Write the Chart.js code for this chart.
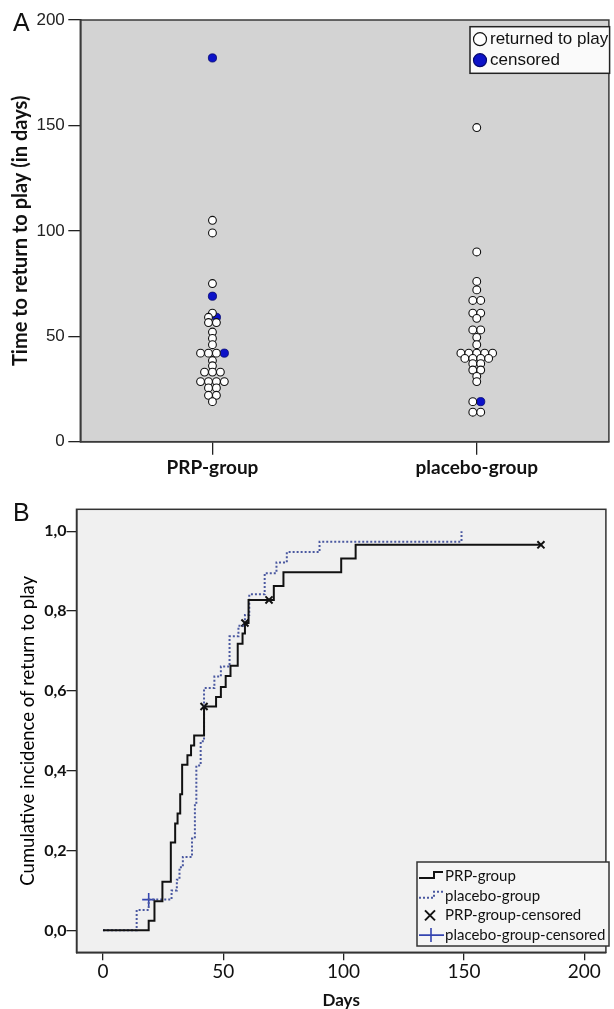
<!DOCTYPE html>
<html>
<head>
<meta charset="utf-8">
<script src="https://cdn.jsdelivr.net/npm/chart.js@4.4.1/dist/chart.umd.min.js"></script>
<style>
  html, body { margin: 0; padding: 0; background: #fff; }
  canvas { display: block; }
</style>
</head>
<body>
<canvas id="chartA" width="614" height="490"></canvas>
<canvas id="chartB" width="614" height="519"></canvas>
<script>
//--- Data, panel A (time to return to play, days).
const groups = ['PRP-group', 'placebo-group'];
const yTicksA = [0, 50, 100, 150, 200];

const prpReturned = [105, 99, 75, 61, 59, 56.5, 56.5, 52, 49, 46, 42, 42, 42, 38.5, 36, 33, 33, 33,
  28.5, 28.5, 28.5, 28.5, 25.5, 25.5, 22, 22, 19];
const prpCensored = [182, 69, 59, 42];
const placeboReturned = [149, 90, 76, 72, 67, 67, 61, 61, 58.5, 53, 53, 49.5, 46, 42, 42, 42, 42, 42,
  39.5, 39.5, 39.5, 39.5, 37, 37, 34, 34, 31, 28.5, 19, 14, 14];
const placeboCensored = [19];

//--- Data, panel B (cumulative incidence curves).
const xTicksB = [0, 50, 100, 150, 200];
const yTicksB = [0, 0.2, 0.4, 0.6, 0.8, 1.0];

const prpDays = [0, 19, 21.4, 24.7, 28.2, 30, 31, 32.1, 32.9, 35.1, 36.6, 37.9, 42, 47, 49, 51, 53, 56, 58, 59,
  60.5, 71, 75, 99, 105, 182];
const prpIncidence = [0, 0.024, 0.073, 0.122, 0.22, 0.268, 0.293, 0.341, 0.415, 0.439, 0.463, 0.488, 0.561,
  0.585, 0.61, 0.637, 0.663, 0.718, 0.744, 0.77, 0.828, 0.863, 0.897, 0.932, 0.966, 0.966];
const prpCensorDays = [42, 59, 69, 182];

const placeboDays = [0, 14, 19, 28.5, 30.7, 31.8, 33.2, 37, 38.2, 38.8, 40.6, 42, 46.3, 49, 52.6, 56.3, 59,
  60.8, 67.2, 72.1, 76.4, 90, 149];
const placeboIncidence = [0, 0.051, 0.077, 0.1, 0.127, 0.158, 0.184, 0.23, 0.316, 0.413, 0.474, 0.607, 0.636,
  0.661, 0.737, 0.763, 0.79, 0.842, 0.895, 0.922, 0.948, 0.974, 1.0];
const placeboCensorDays = [19];

const narrow = "'Liberation Sans Narrow', 'Arial Narrow', 'Liberation Sans', sans-serif";
const sans = "Lato, 'Open Sans', sans-serif";
const blue = '#0c12c8';

// Dots with the same value sit side by side, centred on the group.
const dotStep = 0.03;
function stackDots(groupIndex, returned, censored, out) {
  const rows = new Map();
  returned.forEach(v => { if (!rows.has(v)) rows.set(v, []); rows.get(v).push('returned'); });
  censored.forEach(v => { if (!rows.has(v)) rows.set(v, []); rows.get(v).push('censored'); });
  rows.forEach((kinds, v) => {
    kinds.forEach((kind, i) => {
      out[kind].push({ x: groupIndex + (i - (kinds.length - 1) / 2) * dotStep, y: v });
    });
  });
}
const dots = { returned: [], censored: [] };
stackDots(0, prpReturned, prpCensored, dots);
stackDots(1, placeboReturned, placeboCensored, dots);

const toPoints = (xs, ys) => xs.map((x, i) => ({ x, y: ys[i] }));
function valueAt(days, values, day) {
  let v = values[0];
  days.forEach((d, i) => { if (d <= day) v = values[i]; });
  return v;
}

//--- Plot background, frame and panel letter.
const plotFrame = {
  id: 'plotFrame',
  beforeDraw(chart, args, opts) {
    const { ctx, chartArea: a } = chart;
    ctx.save();
    ctx.fillStyle = opts.fill;
    ctx.fillRect(a.left, a.top, a.right - a.left, a.bottom - a.top);
    ctx.restore();
  },
  afterDraw(chart, args, opts) {
    const { ctx, chartArea: a } = chart;
    ctx.save();
    ctx.strokeStyle = opts.stroke;
    ctx.lineWidth = 1.5;
    ctx.strokeRect(a.left, a.top, a.right - a.left, a.bottom - a.top);
    ctx.font = '25px ' + narrow;
    ctx.fillStyle = '#111';
    ctx.textBaseline = 'middle';
    ctx.fillText(opts.letter, 13, 24);
    ctx.restore();
  }
};

//--- Legend of panel A.
const dotLegend = {
  id: 'dotLegend',
  afterDraw(chart, args, opts) {
    const { ctx } = chart;
    ctx.save();
    ctx.fillStyle = '#fafafa';
    ctx.fillRect(opts.x, opts.y, opts.w, opts.h);
    ctx.strokeStyle = '#222';
    ctx.lineWidth = 1.5;
    ctx.strokeRect(opts.x, opts.y, opts.w, opts.h);
    chart.data.datasets.forEach((ds, i) => {
      const cy = opts.y + 12.5 + i * 21;
      ctx.beginPath();
      ctx.arc(opts.x + 10, cy, 6.5, 0, Math.PI * 2);
      ctx.fillStyle = ds.backgroundColor;
      ctx.fill();
      ctx.strokeStyle = ds.borderColor;
      ctx.lineWidth = 1.2;
      ctx.stroke();
      ctx.fillStyle = '#111';
      ctx.font = '17px ' + narrow;
      ctx.textBaseline = 'middle';
      ctx.fillText(ds.label, opts.x + 20, cy);
    });
    ctx.restore();
  }
};

//--- Legend of panel B.
const curveLegend = {
  id: 'curveLegend',
  afterDraw(chart, args, opts) {
    const { ctx } = chart;
    ctx.save();
    ctx.fillStyle = '#f5f5f5';
    ctx.fillRect(opts.x, opts.y, opts.w, opts.h);
    ctx.strokeStyle = '#333';
    ctx.lineWidth = 1.5;
    ctx.strokeRect(opts.x, opts.y, opts.w, opts.h);
    chart.data.datasets.forEach((ds, i) => {
      const cy = opts.y + 14 + i * 19.7;
      const x0 = opts.x + 2;
      ctx.strokeStyle = ds.borderColor;
      ctx.lineWidth = ds.borderWidth;
      ctx.setLineDash(ds.borderDash || []);
      ctx.beginPath();
      if (ds.showLine) {
        ctx.moveTo(x0, cy + 2);
        ctx.lineTo(x0 + 15, cy + 2);
        ctx.lineTo(x0 + 15, cy - 4);
        ctx.lineTo(x0 + 24, cy - 4);
      } else if (ds.pointStyle === 'crossRot') {
        ctx.moveTo(x0 + 6, cy - 5); ctx.lineTo(x0 + 16, cy + 5);
        ctx.moveTo(x0 + 16, cy - 5); ctx.lineTo(x0 + 6, cy + 5);
      } else {
        ctx.moveTo(x0, cy); ctx.lineTo(x0 + 25, cy);
        ctx.moveTo(x0 + 12, cy - 7); ctx.lineTo(x0 + 12, cy + 7);
      }
      ctx.stroke();
      ctx.setLineDash([]);
      ctx.fillStyle = '#111';
      ctx.font = '15px ' + sans;
      ctx.textBaseline = 'middle';
      ctx.fillText(ds.label, opts.x + 28, cy);
    });
    ctx.restore();
  }
};

//--- Panel A: dot plot.
new Chart(document.getElementById('chartA'), {
  type: 'scatter',
  data: {
    datasets: [
      { label: 'returned to play', data: dots.returned, backgroundColor: '#ffffff', borderColor: '#111',
        borderWidth: 1.1, pointRadius: 3.9 },
      { label: 'censored', data: dots.censored, backgroundColor: blue, borderColor: '#05086e',
        borderWidth: 0.8, pointRadius: 4.1 },
    ]
  },
  options: {
    responsive: false,
    animation: false,
    events: [],
    layout: { padding: { left: 0, right: 2, top: 20, bottom: 0 } },
    scales: {
      x: {
        type: 'linear', min: -0.5, max: 1.5,
        afterBuildTicks: s => { s.ticks = groups.map((g, i) => ({ value: i })); },
        afterFit: s => { s.height = 48.3; },
        ticks: { callback: v => groups[v], color: '#111', padding: 2, maxRotation: 0, autoSkip: false,
          font: { family: sans, size: 19, weight: 'bold' } },
        grid: { drawOnChartArea: false, tickLength: 13, color: '#222', lineWidth: 1.3 },
        border: { color: '#111', width: 1.5 }
      },
      y: {
        min: 0, max: 200,
        afterBuildTicks: s => { s.ticks = yTicksA.map(v => ({ value: v })); },
        afterFit: s => { s.width = 80.3; },
        ticks: { color: '#222', padding: 3.5, font: { family: narrow, size: 17 } },
        grid: { drawOnChartArea: false, tickLength: 12, color: '#222', lineWidth: 1.3 },
        border: { color: '#111', width: 1.5 },
        title: { display: true, text: 'Time to return to play (in days)', color: '#111',
          padding: { top: 9, bottom: 0 }, font: { family: sans, size: 20, weight: 'bold' } }
      }
    },
    plugins: {
      legend: { display: false },
      tooltip: { enabled: false },
      plotFrame: { fill: '#d3d3d3', stroke: '#3a3a3a', letter: 'A' },
      dotLegend: { x: 470, y: 26.7, w: 139.6, h: 46.6 }
    }
  },
  plugins: [plotFrame, dotLegend]
});

//--- Panel B: cumulative incidence.
new Chart(document.getElementById('chartB'), {
  type: 'scatter',
  data: {
    datasets: [
      { label: 'PRP-group', data: toPoints(prpDays, prpIncidence), showLine: true, stepped: true,
        borderColor: '#111', borderWidth: 2, pointRadius: 0 },
      { label: 'placebo-group', data: toPoints(placeboDays, placeboIncidence), showLine: true, stepped: true,
        borderColor: '#4a58a0', borderWidth: 2, borderDash: [2, 2], pointRadius: 0 },
      { label: 'PRP-group-censored',
        data: prpCensorDays.map(d => ({ x: d, y: valueAt(prpDays, prpIncidence, d) })),
        pointStyle: 'crossRot', pointRadius: 5, borderColor: '#111', borderWidth: 2 },
      { label: 'placebo-group-censored',
        data: placeboCensorDays.map(d => ({ x: d, y: valueAt(placeboDays, placeboIncidence, d) })),
        pointStyle: 'cross', pointRadius: 6.5, borderColor: '#3444b0', borderWidth: 1.6 },
    ]
  },
  options: {
    responsive: false,
    animation: false,
    events: [],
    layout: { padding: { left: 0, right: 6, top: 19.3, bottom: 0 } },
    scales: {
      x: {
        type: 'linear', min: -11, max: 209,
        afterBuildTicks: s => { s.ticks = xTicksB.map(v => ({ value: v })); },
        afterFit: s => { s.height = 56.7; },
        ticks: { color: '#111', padding: 0, maxRotation: 0, font: { family: sans, size: 19 } },
        grid: { drawOnChartArea: false, tickLength: 8, color: '#222', lineWidth: 1.3 },
        border: { color: '#111', width: 1.5 },
        title: { display: true, text: 'Days', color: '#111', padding: { top: 0, bottom: 1 },
          font: { family: sans, size: 17, weight: 'bold', lineHeight: 0.9 } }
      },
      y: {
        min: -0.055, max: 1.055,
        afterBuildTicks: s => { s.ticks = yTicksB.map(v => ({ value: v })); },
        afterFit: s => { s.width = 76.5; },
        ticks: { color: '#111', padding: 0, callback: v => v.toFixed(1).replace('.', ','),
          font: { family: sans, size: 16, weight: 'bold' } },
        grid: { drawOnChartArea: false, tickLength: 10, color: '#222', lineWidth: 1.3 },
        border: { color: '#111', width: 1.5 },
        title: { display: true, text: 'Cumulative incidence of return to play', color: '#000',
          padding: { top: 16.6, bottom: 0 }, font: { family: sans, size: 18.5 } }
      }
    },
    plugins: {
      legend: { display: false },
      tooltip: { enabled: false },
      plotFrame: { fill: '#f0f0f0', stroke: '#333', letter: 'B' },
      curveLegend: { x: 417, y: 372, w: 192, h: 84 }
    }
  },
  plugins: [plotFrame, curveLegend]
});
</script>
</body>
</html>
